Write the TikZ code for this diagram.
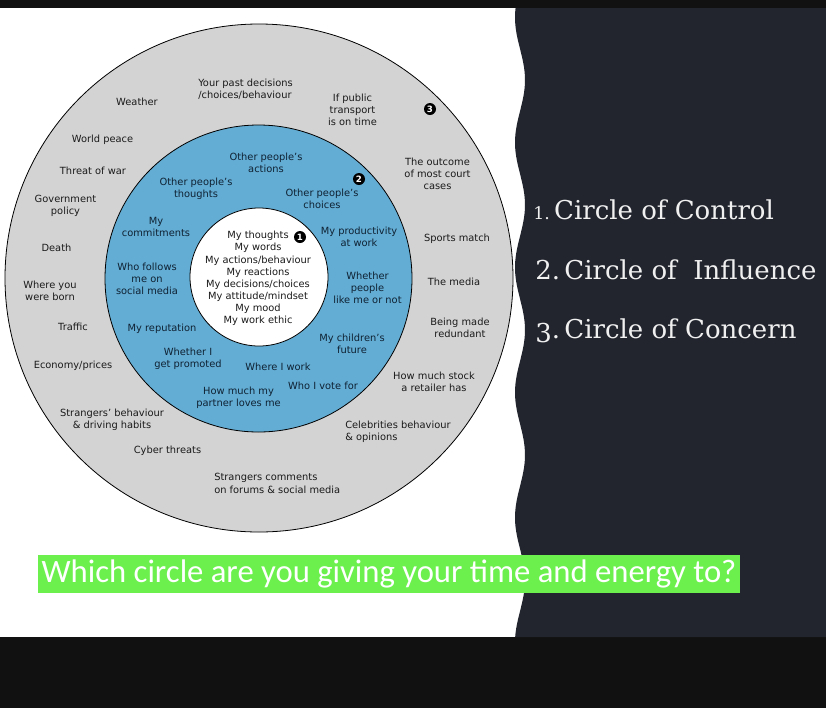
\documentclass[tikz,border=0pt]{standalone}
\usepackage{fontspec}
\setmainfont{DejaVu Sans}
\newfontfamily\serifR{DejaVu Serif}
\newfontfamily\calib{Carlito}
\definecolor{panel}{HTML}{22242E}
\definecolor{barblack}{HTML}{111111}
\definecolor{ringgray}{HTML}{D3D3D3}
\definecolor{ringblue}{HTML}{63ACD3}
\definecolor{txt}{HTML}{1A1A1A}
\definecolor{btxt}{HTML}{0F2233}
\definecolor{hl}{HTML}{6CF04E}
\begin{document}
\begin{tikzpicture}[x=0.75pt,y=-0.75pt,
  gt/.style={font=\fontsize{7.4}{9.2}\selectfont, align=center, inner sep=0pt, text=txt},
  gl/.style={gt, align=left, anchor=west},
  bt/.style={gt, text=btxt},
  marker/.style={circle, fill=black, text=white, inner sep=0pt, minimum size=9pt, font=\fontsize{6.5}{7}\selectfont\bfseries},
  side/.style={anchor=base west, inner sep=0pt, text=white!94!black, font=\fontsize{19.5}{22}\serifR}]
\useasboundingbox (0,0) rectangle (826,708);
\fill[barblack] (0,0) rectangle (826,708);
\fill[white] (0,8) rectangle (826,637);
\fill[panel] (826,8) -- plot[domain=8:637,samples=150] ({520+5*cos(2.88*(\x-80))},\x) -- (826,637) -- cycle;
% circles
\draw[fill=ringgray, line width=0.6pt] (259,278) circle [radius=254];
\draw[fill=ringblue, line width=0.6pt] (258.5,278.5) circle [radius=153.5];
\draw[fill=white, line width=0.6pt] (259,277) circle [radius=69];
% outer ring texts
\node[gl] (o1) at (198,89) {Your past decisions\\/choices/behaviour};
\node[gt] (o2) at (137,102) {Weather};
\node[gt] (o3) at (352.5,110) {If public\\transport\\is on time};
\node[gt] (o4) at (102.5,140) {World peace};
\node[gt] (o5) at (93,171) {Threat of war};
\node[gt] (o6) at (437.5,174) {The outcome\\of most court\\cases};
\node[gt] (o7) at (65.5,205.5) {Government\\policy};
\node[gt] (o8) at (56.5,248) {Death};
\node[gt] (o9) at (457,239) {Sports match};
\node[gt] (o10) at (50,290.5) {Where you\\were born};
\node[gt] (o11) at (454,282) {The media};
\node[gt] (o12) at (73,327) {Traffic};
\node[gt] (o13) at (460,328) {Being made\\redundant};
\node[gt] (o14) at (73,366) {Economy/prices};
\node[gt] (o15) at (434,382) {How much stock\\a retailer has};
\node[gt] (o16) at (112,420) {Strangers' behaviour\\\& driving habits};
\node[gt] (o17) at (167.5,451) {Cyber threats};
\node[gl] (o18) at (345,432) {Celebrities behaviour\\\& opinions};
\node[gl] (o19) at (214,483.5) {Strangers comments\\on forums \& social media};
% blue ring texts
\node[bt] (b1) at (266,163) {Other people's\\actions};
\node[bt] (b2) at (196,189) {Other people's\\thoughts};
\node[bt] (b3) at (322,199) {Other people's\\choices};
\node[bt] (b4) at (156,227) {My\\commitments};
\node[bt] (b5) at (359,237) {My productivity\\at work};
\node[bt] (b6) at (147,279) {Who follows\\me on\\social media};
\node[bt] (b7) at (367.5,288) {Whether\\people\\like me or not};
\node[bt] (b8) at (162,329) {My reputation};
\node[bt] (b9) at (352,344) {My children's\\future};
\node[bt] (b10) at (188,358.5) {Whether I\\get promoted};
\node[bt] (b11) at (278,367) {Where I work};
\node[bt] (b12) at (323,386) {Who I vote for};
\node[bt] (b13) at (238.5,398) {How much my\\partner loves me};
% inner circle text
\node[gt, font=\fontsize{7.4}{9.1}\selectfont] (w1) at (258,278.5) {My thoughts\\My words\\My actions/behaviour\\My reactions\\My decisions/choices\\My attitude/mindset\\My mood\\My work ethic};
% markers
\node[marker] (m1) at (300,237) {1};
\node[marker] (m2) at (359,179) {2};
\node[marker] (m3) at (430,109) {3};
% right side list
\node[side] (s1) at (533,219) {{\fontsize{13}{14}\selectfont 1.}\,Circle of Control};
\node[side] (s2) at (535,279) {2.\,Circle of\ \ Influence};
\node[side] (s3) at (535,338) {\raisebox{-3.5pt}{3}.\,Circle of Concern};
% highlighted question
\fill[hl] (38,555) rectangle (740,593);
\node[inner sep=0pt, text=white, font=\fontsize{24.5}{26}\calib] (q) at (389,574) {Which circle are you giving your time and energy to?};
\end{tikzpicture}
\end{document}
